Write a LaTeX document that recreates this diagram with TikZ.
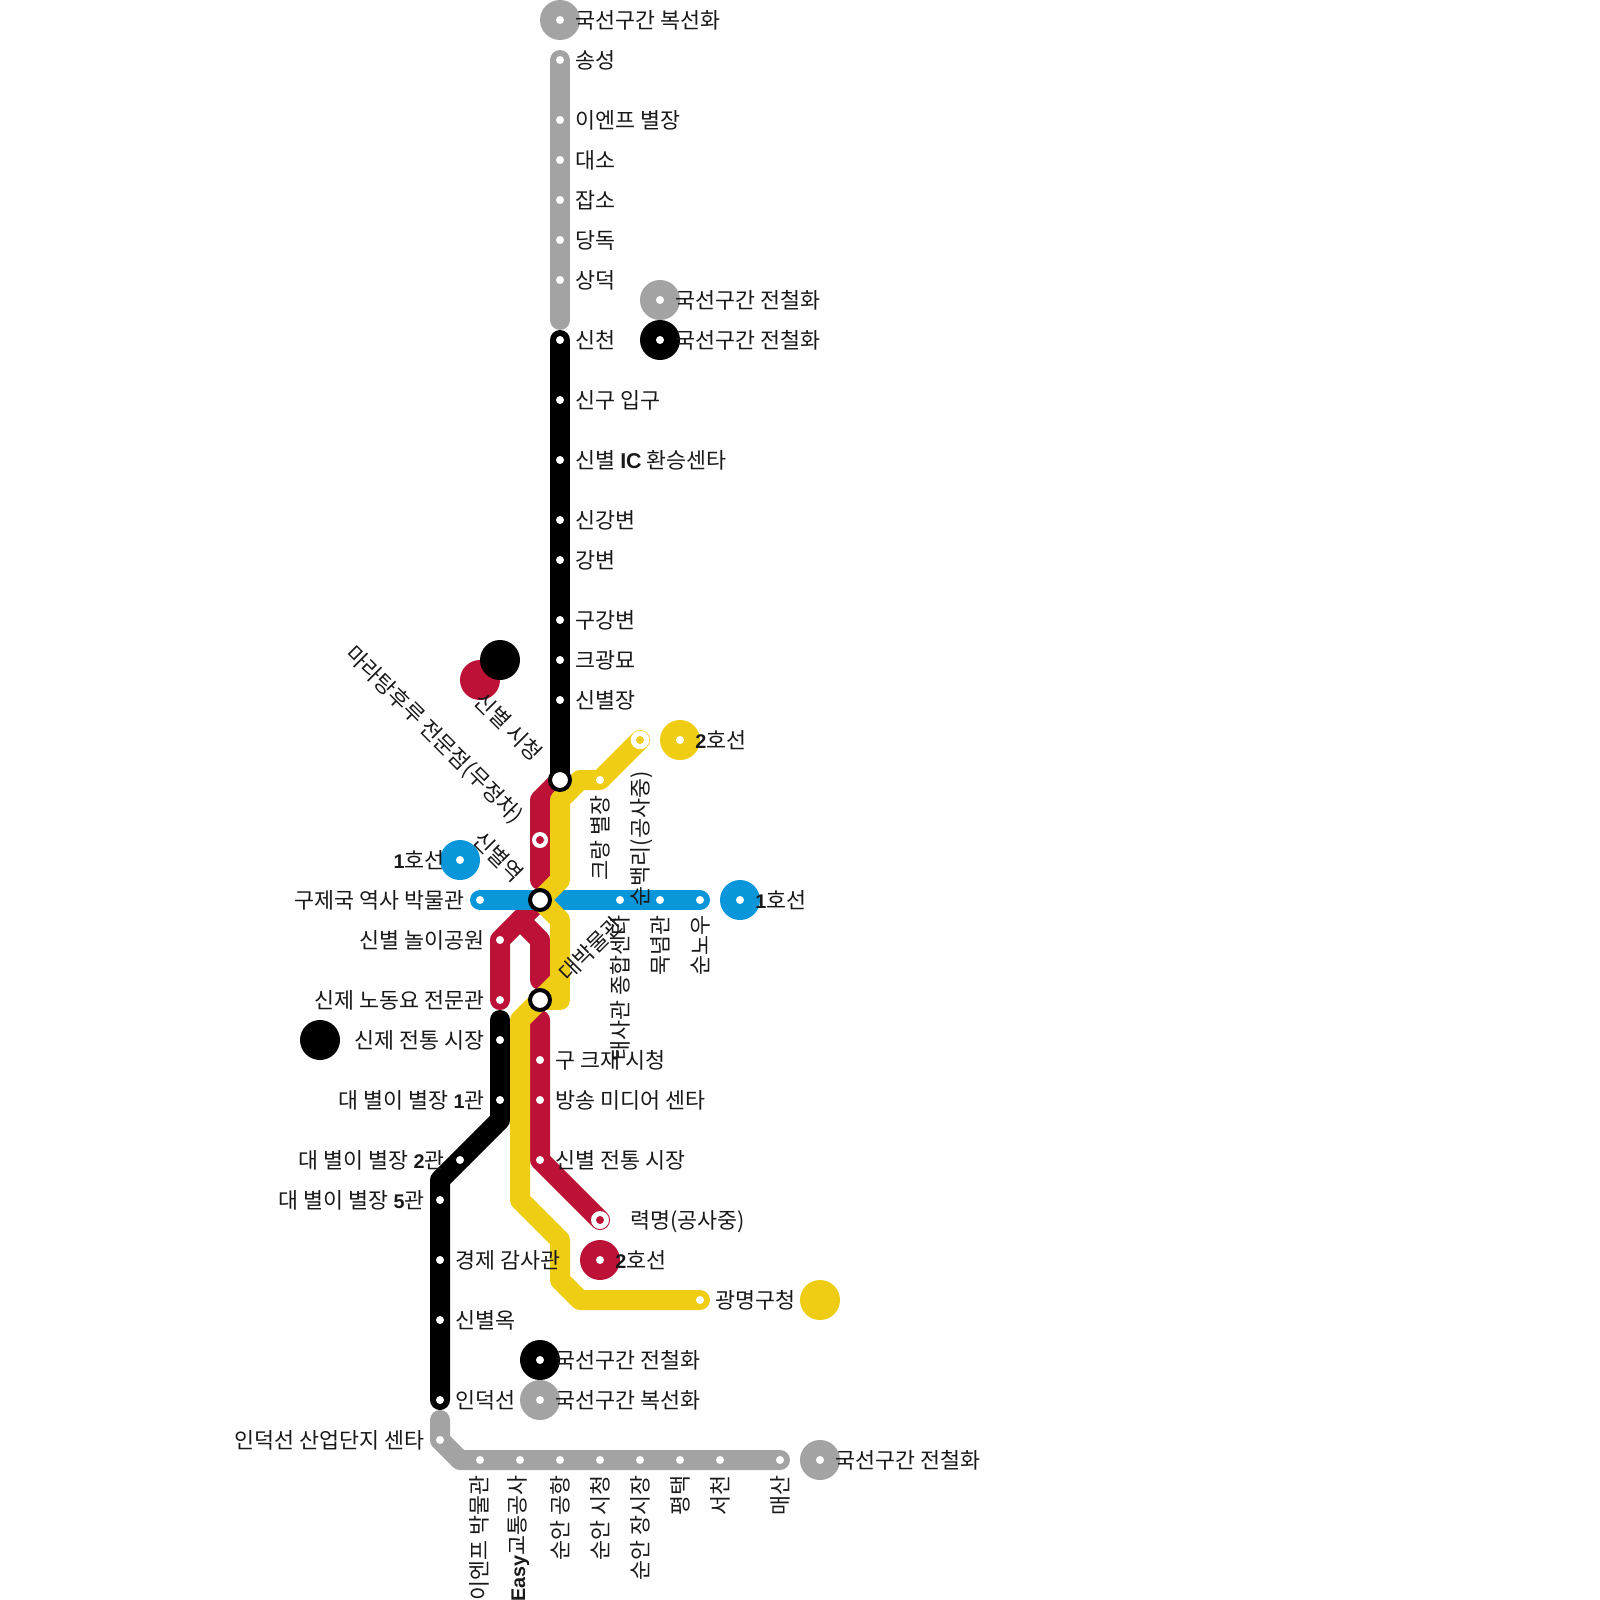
\documentclass[tikz,border=0pt]{standalone}
\usepackage{fontspec}
\setmainfont{Noto Sans CJK KR}
\newfontfamily\lat{Liberation Sans}
\newcommand{\LB}[1]{{\fontsize{9.9}{12}\lat\bfseries #1}}
\newcommand{\LBB}[1]{{\fontsize{10.7}{13}\lat\bfseries #1}}
\definecolor{cgrey}{HTML}{A3A3A3}
\definecolor{cblack}{HTML}{000000}
\definecolor{cred}{HTML}{BC1238}
\definecolor{cblue}{HTML}{0A96D8}
\definecolor{cyel}{HTML}{EFCD15}
\tikzset{
  trackline/.style={line width=10pt,line cap=round,line join=round,draw=#1},
  dotw/.style={circle,fill=white,inner sep=0pt,minimum size=4pt},
  bigdisc/.style={circle,fill=#1,inner sep=0pt,minimum size=20pt},
  xchg/.style={circle,fill=white,draw=black,line width=2pt,inner sep=0pt,minimum size=10pt},
  ringo/.style={circle,fill=white,inner sep=0pt,minimum size=#1},
  ringi/.style={circle,fill=#1,inner sep=0pt,minimum size=4pt},
  lab/.style={inner sep=0pt,text=black!90,font=\fontsize{10.87}{13}\selectfont,text height=9.5pt,text depth=1.3pt},
  labl/.style={lab,anchor=west},
  labr/.style={lab,anchor=east},
}
\begin{document}
\begin{tikzpicture}[x=0.5pt,y=-0.5pt]
\useasboundingbox (0,0) rectangle (1600,1600);
% grey north
\coordinate (gn0) at (560,60);\coordinate (gn1) at (560,120);\coordinate (gn2) at (560,160);
\coordinate (gn3) at (560,200);\coordinate (gn4) at (560,240);\coordinate (gn5) at (560,280);\coordinate (gn6) at (560,320);
% black north
\coordinate (bn0) at (560,340);\coordinate (bn1) at (560,400);\coordinate (bn2) at (560,460);
\coordinate (bn3) at (560,520);\coordinate (bn4) at (560,560);\coordinate (bn5) at (560,620);
\coordinate (bn6) at (560,660);\coordinate (bn7) at (560,700);\coordinate (xa) at (560,780);
% interchanges
\coordinate (xb) at (540,900);\coordinate (xc) at (540,1000);
% red
\coordinate (r1) at (540,800);\coordinate (r2) at (540,840);\coordinate (r3) at (540,880);
\coordinate (r4) at (500,1000);\coordinate (r5) at (500,940);\coordinate (r6) at (520,920);
\coordinate (r7) at (540,940);\coordinate (r8) at (540,980);
\coordinate (r9) at (540,1020);\coordinate (r10) at (540,1060);\coordinate (r11) at (540,1100);
\coordinate (r12) at (540,1160);\coordinate (r13) at (600,1220);
% blue
\coordinate (u1) at (480,900);\coordinate (u2) at (620,900);\coordinate (u3) at (660,900);\coordinate (u4) at (700,900);
% yellow
\coordinate (y1) at (640,740);\coordinate (y2) at (600,780);\coordinate (y3) at (580,780);\coordinate (y4) at (560,800);
\coordinate (y5) at (560,880);\coordinate (y6) at (560,920);\coordinate (y7) at (560,980);\coordinate (y8) at (560,1000);
\coordinate (y9) at (540,1000);\coordinate (y10) at (520,1020);\coordinate (y11) at (520,1200);\coordinate (y12) at (560,1240);
\coordinate (y13) at (560,1280);\coordinate (y14) at (580,1300);\coordinate (y15) at (700,1300);
% black south
\coordinate (k0) at (500,1020);\coordinate (k1) at (500,1040);\coordinate (k2) at (500,1100);\coordinate (k3) at (500,1120);
\coordinate (k4) at (460,1160);\coordinate (k5) at (440,1180);\coordinate (k6) at (440,1200);\coordinate (k7) at (440,1260);
\coordinate (k8) at (440,1320);\coordinate (k9) at (440,1400);
% grey south
\coordinate (s0) at (440,1420);\coordinate (s1) at (440,1440);\coordinate (s2) at (460,1460);
\coordinate (s3) at (480,1460);\coordinate (s4) at (520,1460);\coordinate (s5) at (560,1460);\coordinate (s6) at (600,1460);
\coordinate (s7) at (640,1460);\coordinate (s8) at (680,1460);\coordinate (s9) at (720,1460);\coordinate (s10) at (780,1460);

% tracks
\draw[trackline=cgrey] (gn0) -- (gn6);
\draw[trackline=cblack] (bn0) -- (xa);
\draw[trackline=cgrey] (s0) -- (s1) -- (s2) -- (s10);
\draw[trackline=cblack] (k0) -- (k3) -- (k5) -- (k9);
\draw[trackline=cred] (xa) -- (r1) -- (r3);
\draw[trackline=cred] (r4) -- (r5) -- (xb);
\draw[trackline=cred] (r6) -- (r7) -- (r8);
\draw[trackline=cred] (r9) -- (r12) -- (r13);
\draw[trackline=cblue] (u1) -- (u4);
\draw[trackline=cyel] (y1) -- (y2) -- (y3) -- (y4) -- (y5) -- (xb) -- (y6) -- (y7) -- (y10) -- (y11) -- (y12) -- (y13) -- (y14) -- (y15);
\draw[trackline=cyel] (y7) -- (y8) -- (y9);

% stations
\foreach \s in {gn0,gn1,gn2,gn3,gn4,gn5,bn0,bn1,bn2,bn3,bn4,bn5,bn6,bn7,r5,r4,r10,r11,r12,u1,u2,u3,u4,y2,y15,k1,k2,k4,k6,k7,k8,k9,s1,s3,s4,s5,s6,s7,s8,s9,s10}
  \node[dotw] (dot-\s) at (\s) {};
\node[ringo=9.3pt] (ringA) at (y1) {};\node[ringi=cyel] (ringAi) at (y1) {};
\node[ringo=8pt] (ringB) at (r2) {};\node[ringi=cred] (ringBi) at (r2) {};
\node[ringo=9pt] (ringC) at (r13) {};\node[ringi=cred] (ringCi) at (r13) {};
\node[xchg] (xA) at (xa) {};\node[xchg] (xB) at (xb) {};\node[xchg] (xC) at (xc) {};

% legend discs
\foreach \n/\c/\x/\y in {d1/cgrey/560/20,d2/cgrey/660/300,d3/cblack/660/340,d4/cblue/460/860,d5/cblue/740/900,d6/cyel/680/740,d7/cred/600/1260,d8/cblack/540/1360,d9/cgrey/540/1400,d10/cgrey/820/1460}{
  \node[bigdisc=\c] (\n) at (\x,\y) {};
  \node[dotw] (\n-dot) at (\x,\y) {};
}
\node[bigdisc=cred] (d11) at (480,680) {};
\node[bigdisc=cblack] (d12) at (500,660) {};
\node[bigdisc=cblack] (d13) at (320,1040) {};
\node[bigdisc=cyel] (d14) at (820,1300) {};

% right labels
\node[labl] (t1) at (575,20) {국선구간 복선화};
\node[labl] (t2) at (575,60) {송성};
\node[labl] (t3) at (575,120) {이엔프 별장};
\node[labl] (t4) at (575,160) {대소};
\node[labl] (t5) at (575,200) {잡소};
\node[labl] (t6) at (575,240) {당독};
\node[labl] (t7) at (575,280) {상덕};
\node[labl] (t8) at (575,340) {신천};
\node[labl] (t9) at (575,400) {신구 입구};
\node[labl] (t10) at (575,460) {신별 \LBB{IC} 환승센타};
\node[labl] (t11) at (575,520) {신강변};
\node[labl] (t12) at (575,560) {강변};
\node[labl] (t13) at (575,620) {구강변};
\node[labl] (t14) at (575,660) {크광묘};
\node[labl] (t15) at (575,700) {신별장};
\node[labl] (t16) at (675,300) {국선구간 전철화};
\node[labl] (t17) at (675,340) {국선구간 전철화};
\node[labl] (t18) at (695,740) {\LB{2}호선};
\node[labl] (t19) at (755,900) {\LB{1}호선};
\node[labl] (t20) at (555,1060) {구 크재 시청};
\node[labl] (t21) at (555,1100) {방송 미디어 센타};
\node[labl] (t22) at (555,1160) {신별 전통 시장};
\node[labl] (t23) at (630,1220) {력명(공사중)};
\node[labl] (t24) at (615,1260) {\LB{2}호선};
\node[labl] (t25) at (455,1260) {경제 감사관};
\node[labl] (t26) at (715,1300) {광명구청};
\node[labl] (t27) at (455,1320) {신별옥};
\node[labl] (t28) at (455,1400) {인덕선};
\node[labl] (t29) at (555,1360) {국선구간 전철화};
\node[labl] (t30) at (555,1400) {국선구간 복선화};
\node[labl] (t31) at (835,1460) {국선구간 전철화};
% left labels
\node[labr] (t32) at (445,860) {\LB{1}호선};
\node[labr] (t33) at (465,900) {구제국 역사 박물관};
\node[labr] (t34) at (485,940) {신별 놀이공원};
\node[labr] (t35) at (485,1000) {신제 노동요 전문관};
\node[labr] (t36) at (485,1040) {신제 전통 시장};
\node[labr] (t37) at (485,1100) {대 별이 별장 \LB{1}관};
\node[labr] (t38) at (445,1160) {대 별이 별장 \LB{2}관};
\node[labr] (t39) at (425,1200) {대 별이 별장 \LB{5}관};
\node[labr] (t40) at (425,1440) {인덕선 산업단지 센타};
% rotated
\node[labr,rotate=-45] (t41) at (539,757) {신별 시청};
\node[labr,rotate=-45] (t42) at (520,819) {마라탕후루 전문점(무정차)};
\node[labr,rotate=-45] (t43) at (520,878) {신별역};
\node[labl,rotate=45] (t44) at (562,977) {대박물관};
\node[labr,rotate=90] (t45) at (600,795) {크랑 별장};
\node[labr,rotate=90] (t46) at (640,771) {순백리(공사중)};
\node[labr,rotate=90] (t47) at (620,915) {태사관 종합센타};
\node[labr,rotate=90] (t48) at (660,915) {묵념관};
\node[labr,rotate=90] (t49) at (700,915) {순노우};
\node[labr,rotate=90] (t50) at (479,1475) {이엔프 박물관};
\node[labr,rotate=90] (t51) at (517,1475) {\LB{Easy}교통공사};
\node[labr,rotate=90] (t52) at (560,1475) {순안 공항};
\node[labr,rotate=90] (t53) at (600,1475) {순안 시청};
\node[labr,rotate=90] (t54) at (640,1475) {순안 장시장};
\node[labr,rotate=90] (t55) at (680,1475) {평택};
\node[labr,rotate=90] (t56) at (720,1475) {서천};
\node[labr,rotate=90] (t57) at (780,1475) {매산};
\end{tikzpicture}
\end{document}
